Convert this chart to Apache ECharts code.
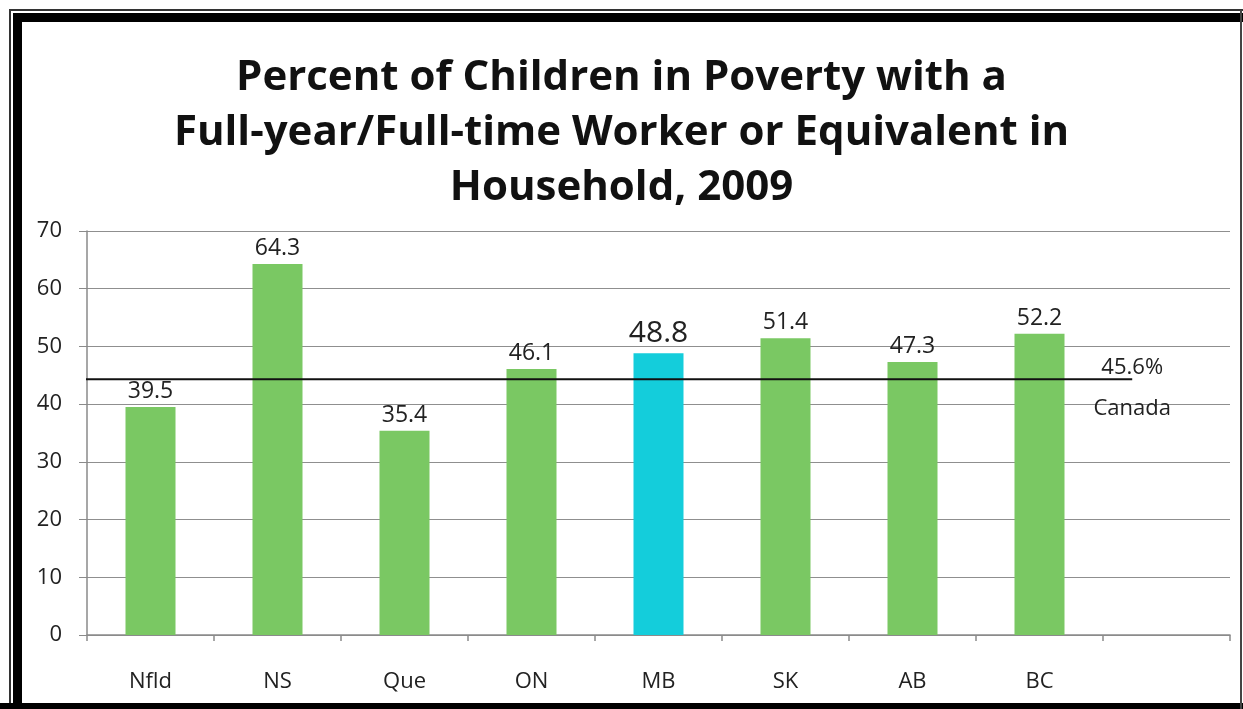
<!DOCTYPE html>
<html>
<head>
<meta charset="utf-8">
<script src="https://cdn.jsdelivr.net/npm/echarts@6/dist/echarts.min.js"></script>
<style>
html,body{margin:0;padding:0;background:#fff;}
#c{width:1243px;height:709px;}
</style>
</head>
<body>
<div id="c"></div>
<script>
const titleLines = ['Percent of Children in Poverty with a', 'Full-year/Full-time Worker or Equivalent in', 'Household, 2009'];
const categories = ['Nfld', 'NS', 'Que', 'ON', 'MB', 'SK', 'AB', 'BC', ''];
const values = [39.5, 64.3, 35.4, 46.1, 48.8, 51.4, 47.3, 52.2, null];
const highlightIndex = 4;
const yTicks = [0, 10, 20, 30, 40, 50, 60, 70];
const canadaLabel = '45.6%';
const canadaName = 'Canada';
const canadaLineValue = 44.3;      // drawn position of the Canada line
const canadaLineSpan = [-0.03, 8.23]; // category-slot units where the line starts/ends

const FONT = 'Open Sans';
const green = '#7AC863';
const cyan = '#14CDDB';

const chart = echarts.init(document.getElementById('c'), null, {renderer: 'canvas'});

const barData = values.map((v, i) => {
  if (v === null) return null;
  const isHi = i === highlightIndex;
  return {
    value: v,
    itemStyle: {color: isHi ? cyan : green},
    label: {fontSize: isHi ? 30 : 23, distance: isHi ? 5 : 4}
  };
});

chart.setOption({
  animation: false,
  backgroundColor: '#fff',
  textStyle: {fontFamily: FONT},
  title: {
    text: titleLines.join('\n'),
    left: 'center',
    top: 46,
    textStyle: {fontFamily: FONT, fontWeight: 'bold', fontSize: 42, lineHeight: 55, color: '#111'}
  },
  grid: {left: 87, right: 13, top: 231, bottom: 74, containLabel: false},
  xAxis: [{
    type: 'category',
    data: categories,
    boundaryGap: true,
    axisLine: {lineStyle: {color: '#8a8a8a', width: 1.5}},
    axisTick: {show: true, length: 6, alignWithLabel: false, lineStyle: {color: '#8a8a8a', width: 1.5}},
    axisLabel: {fontFamily: FONT, fontSize: 22, color: '#222', margin: 36}
  }, {
    type: 'value',
    min: 0,
    max: categories.length,
    show: false
  }],
  yAxis: {
    type: 'value',
    min: yTicks[0],
    max: yTicks[yTicks.length - 1],
    interval: 10,
    axisLine: {show: true, lineStyle: {color: '#8a8a8a', width: 1.5}},
    axisTick: {show: true, inside: false, length: 8, lineStyle: {color: '#8a8a8a'}},
    axisLabel: {fontFamily: FONT, fontSize: 22, color: '#222', margin: 25},
    splitLine: {show: true, lineStyle: {color: '#8f8f8f', width: 1.2}}
  },
  series: [{
    type: 'bar',
    data: barData,
    barWidth: 50,
    label: {show: true, position: 'top', fontFamily: FONT, color: '#222', fontSize: 23,
      formatter: p => p.value.toFixed(1)}
  }, {
    type: 'line',
    xAxisIndex: 1,
    clip: false,
    symbol: 'none',
    lineStyle: {color: '#111', width: 2},
    data: [
      [canadaLineSpan[0], canadaLineValue],
      [canadaLineSpan[1], canadaLineValue]
    ],
    z: 5
  }, {
    type: 'scatter',
    xAxisIndex: 1,
    clip: false,
    symbolSize: 1,
    itemStyle: {color: 'rgba(255,255,255,0)'},
    data: [[canadaLineSpan[1], canadaLineValue]],
    label: {show: true, position: 'inside', color: '#222', fontSize: 22, fontFamily: FONT,
      textBorderWidth: 0, opacity: 1,
      formatter: '{a|' + canadaLabel + '}\n{b|' + canadaName + '}',
      rich: {
        a: {fontFamily: FONT, fontSize: 22, color: '#222', lineHeight: 58, textBorderWidth: 0},
        b: {fontFamily: FONT, fontSize: 22, color: '#222', lineHeight: 24, textBorderWidth: 0}
      }},
    emphasis: {disabled: true},
    z: 6
  }],
  graphic: [
    {type: 'rect', shape: {x: 10, y: 10, width: 1240, height: 700}, style: {fill: 'none', stroke: '#333', lineWidth: 2}, silent: true},
    {type: 'rect', shape: {x: 13, y: 13, width: 9, height: 700}, style: {fill: '#000'}, silent: true},
    {type: 'rect', shape: {x: 13, y: 13, width: 1230, height: 9}, style: {fill: '#000'}, silent: true},
    {type: 'rect', shape: {x: 0, y: 703, width: 1243, height: 6}, style: {fill: '#000'}, silent: true},
    {type: 'rect', shape: {x: 1240, y: 10, width: 2, height: 700}, style: {fill: '#444'}, silent: true}
  ]
});
</script>
</body>
</html>
